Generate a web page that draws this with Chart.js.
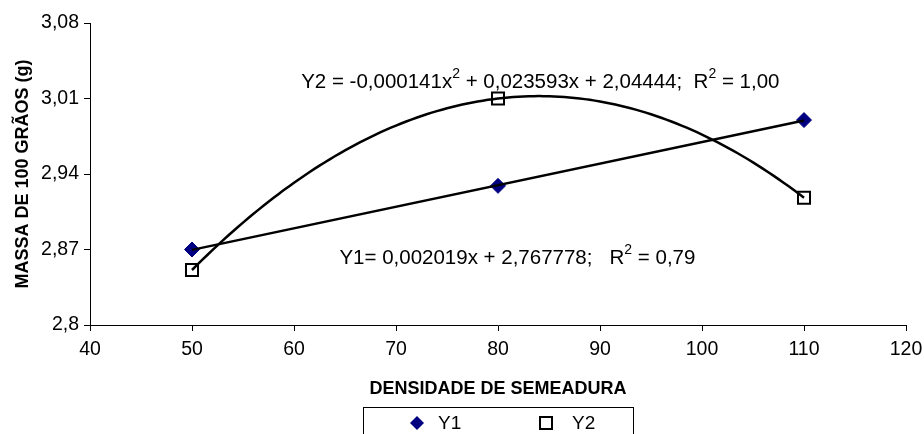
<!DOCTYPE html>
<html>
<head>
<meta charset="utf-8">
<script src="https://cdn.jsdelivr.net/npm/chart.js@4.4.1/dist/chart.umd.min.js"></script>
<style>
  html, body { margin: 0; padding: 0; background: #fff; }
  #wrap { width: 924px; height: 434px; position: relative; }
</style>
</head>
<body>
<div id="wrap"><canvas id="c" width="924" height="434"></canvas></div>
<script>
// ---- data ----
const densities = [50, 80, 110];
const y1Values = [2.870, 2.929, 2.990];
const y2Values = [2.851, 3.010, 2.918];
const xTicks = [40, 50, 60, 70, 80, 90, 100, 110, 120];
const yTicks = [2.8, 2.87, 2.94, 3.01, 3.08];
const seriesNames = ['Y1', 'Y2'];
const eqY2 = ['Y2 = -0,000141x', '2', ' + 0,023593x + 2,04444;  R', '2', ' = 1,00'];
const eqY1 = ['Y1= 0,002019x + 2,767778;   R', '2', ' = 0,79'];

// ---- trendlines computed from the data ----
function linFit(xs, ys) {
  const n = xs.length;
  const mx = xs.reduce((a, b) => a + b, 0) / n, my = ys.reduce((a, b) => a + b, 0) / n;
  let sxy = 0, sxx = 0;
  xs.forEach((x, i) => { sxy += (x - mx) * (ys[i] - my); sxx += (x - mx) * (x - mx); });
  const b = sxy / sxx;
  return x => my + b * (x - mx);
}
function quadThrough(xs, ys) { // Lagrange through 3 points
  return x => {
    let s = 0;
    for (let i = 0; i < 3; i++) {
      let t = ys[i];
      for (let j = 0; j < 3; j++) if (j !== i) t *= (x - xs[j]) / (xs[i] - xs[j]);
      s += t;
    }
    return s;
  };
}
const f1 = linFit(densities, y1Values);
const f2 = quadThrough(densities, y2Values);
const x0 = densities[0], x1 = densities[densities.length - 1];
const trend1 = [{x: x0, y: f1(x0)}, {x: x1, y: f1(x1)}];
const trend2 = [];
for (let x = x0; x <= x1 + 1e-9; x += 0.5) trend2.push({x: x, y: f2(x)});

const FONT = 'Liberation Sans, Arial, sans-serif';
const fmt = v => String(Math.round(v * 100) / 100).replace('.', ',');

function drawRich(ctx, parts, x, yBase, size) {
  ctx.save();
  ctx.fillStyle = '#000';
  ctx.textBaseline = 'alphabetic';
  ctx.textAlign = 'left';
  let cx = x;
  parts.forEach((p, i) => {
    const sup = i % 2 === 1;
    const s = sup ? Math.round(size * 0.68) : size;
    ctx.font = s + 'px ' + FONT;
    ctx.fillText(p, cx, sup ? yBase - size * 0.5 : yBase);
    cx += ctx.measureText(p).width;
  });
  ctx.restore();
}

const annot = {
  id: 'annot',
  afterDatasetsDraw(chart) {
    const ctx = chart.ctx, xs = chart.scales.x, ys = chart.scales.y;
    drawRich(ctx, eqY2, xs.getPixelForValue(60.7), ys.getPixelForValue(3.0197), 20.5);
    drawRich(ctx, eqY1, xs.getPixelForValue(64.45), ys.getPixelForValue(2.8566), 20.5);
  },
  afterDraw(chart) {
    const ctx = chart.ctx;
    // legend box
    const bx = 363.5, by = 407.5, bw = 270, bh = 40;
    ctx.save();
    ctx.strokeStyle = '#000';
    ctx.lineWidth = 1;
    ctx.strokeRect(bx, by, bw, bh);
    const cy = 423;
    // diamond
    ctx.fillStyle = '#000080';
    ctx.beginPath();
    ctx.moveTo(417, cy - 7); ctx.lineTo(424, cy); ctx.lineTo(417, cy + 7); ctx.lineTo(410, cy); ctx.closePath();
    ctx.fill();
    // square
    ctx.strokeStyle = '#000'; ctx.lineWidth = 2;
    ctx.strokeRect(540, cy - 6, 12, 12);
    ctx.fillStyle = '#000';
    ctx.font = '19px ' + FONT;
    ctx.textBaseline = 'middle';
    ctx.fillText(seriesNames[0], 438, cy + 1);
    ctx.fillText(seriesNames[1], 572, cy + 1);
    ctx.restore();
  }
};

new Chart(document.getElementById('c'), {
  type: 'scatter',
  data: {
    datasets: [
      { label: seriesNames[0] + ' trend', data: trend1, showLine: true, borderColor: '#000', borderWidth: 2.5, pointRadius: 0, order: 0 },
      { label: seriesNames[1] + ' trend', data: trend2, showLine: true, borderColor: '#000', borderWidth: 2.5, pointRadius: 0, order: 0, tension: 0 },
      { label: seriesNames[0], data: densities.map((x, i) => ({x, y: y1Values[i]})), pointStyle: 'rectRot', pointRadius: 7.5, backgroundColor: '#000080', borderColor: '#000080', borderWidth: 1, order: 1 },
      { label: seriesNames[1], data: densities.map((x, i) => ({x, y: y2Values[i]})), pointStyle: 'rect', pointRadius: 8.5, backgroundColor: 'rgba(0,0,0,0)', borderColor: '#000', borderWidth: 2, order: 1 }
    ]
  },
  options: {
    responsive: false,
    animation: false,
    layout: { padding: { left: 12, right: 18, top: 23, bottom: 34 } },
    plugins: { legend: { display: false }, tooltip: { enabled: false } },
    scales: {
      x: {
        type: 'linear', min: 40, max: 120,
        afterBuildTicks: s => { s.ticks = xTicks.map(v => ({value: v})); },
        afterFit: s => { s.height = 75; s.paddingLeft = 0; s.paddingRight = 0; },
        ticks: { color: '#000', font: { family: FONT, size: 19.5 }, padding: 7, maxRotation: 0, autoSkip: false },
        grid: { drawOnChartArea: false, drawTicks: true, tickLength: 6, color: '#000', lineWidth: 1 },
        border: { color: '#000', width: 1 },
        title: { display: true, text: 'DENSIDADE DE SEMEADURA', color: '#000', font: { family: FONT, size: 18, weight: 'bold' }, padding: 0 }
      },
      y: {
        type: 'linear', min: 2.8, max: 3.08,
        afterBuildTicks: s => { s.ticks = yTicks.map(v => ({value: v})); },
        afterFit: s => { s.width = 78; s.paddingTop = 0; s.paddingBottom = 0; },
        ticks: { color: '#000', font: { family: FONT, size: 19.5 }, padding: 5, callback: v => fmt(v) },
        grid: { drawOnChartArea: false, drawTicks: true, tickLength: 6, color: '#000', lineWidth: 1 },
        border: { color: '#000', width: 1 },
        title: { display: true, text: 'MASSA DE 100 GRÃOS (g)', color: '#000', font: { family: FONT, size: 18, weight: 'bold' }, padding: 0 }
      }
    }
  },
  plugins: [annot]
});
</script>
</body>
</html>
